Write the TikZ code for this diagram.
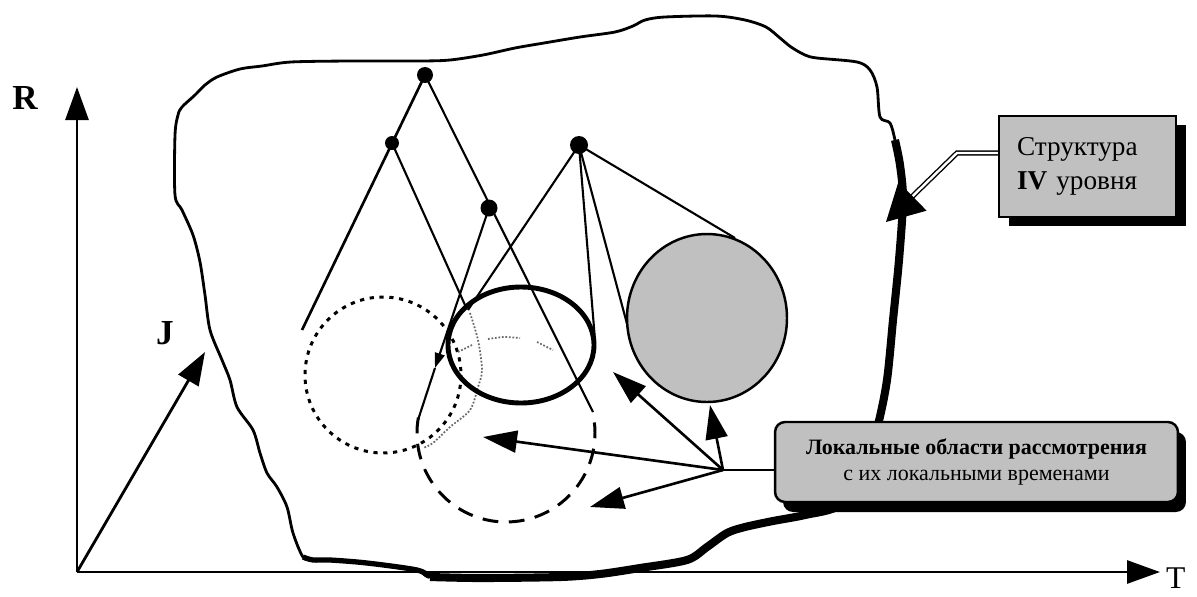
\documentclass[tikz,border=0pt]{standalone}
\usepackage{fontspec}
\setmainfont{Liberation Serif}
\usetikzlibrary{arrows.meta,positioning,shadows}
\definecolor{PanelGray}{RGB}{192,192,192}
\definecolor{HiddenGray}{RGB}{105,105,105}
\newcommand{\vertexdot}[3]{%
  \node[vdot,minimum size=#3] (#1) at (#2) {};}

\begin{document}
\begin{tikzpicture}[x=0.02cm,y=-0.02cm,
  axis/.style={line width=1.6pt,-{Triangle[length=0.66cm,width=0.46cm]}},
  ptr/.style={line width=1.5pt,-{Triangle[length=0.68cm,width=0.44cm]}},
  dblptr/.style={double,double distance=1.4pt,line width=0.8pt,-{Triangle[length=0.74cm,width=0.8cm]}},
  cone/.style={line width=1.2pt},
  hidden/.style={HiddenGray,line width=1pt,densely dotted},
  vdot/.style={circle,fill=black,inner sep=0pt},
  panel/.style={draw,line width=1.4pt,fill=PanelGray,inner sep=0pt},
  axlabel/.style={font=\bfseries\fontsize{20}{22}\selectfont}]
  \useasboundingbox (0,0) rectangle (1197,596);

  % axes R, J, T
  \coordinate (o) at (77,572);
  \coordinate (rtip) at (77,87);
  \coordinate (jtip) at (205,352);
  \coordinate (ttip) at (1160,572);
  \draw[axis] (o) -- (rtip);
  \draw[axis] (o) -- (jtip);
  \draw[axis] (o) -- (ttip);
  \node[axlabel] (rlab) at (25,98) {R};
  \node[axlabel] (jlab) at (165,333) {J};
  \node[font=\fontsize{18}{20}\selectfont,anchor=west,inner sep=1pt] (tlab) at (1164,578) {T};

  % structure of level IV
  \draw[line width=1.6pt] plot[smooth cycle,tension=0.5] coordinates {
    (217,77) (240,69) (262,66) (291,62) (350,61) (420,61) (450,60) (483,55)
    (515,48) (544,43) (580,37) (615,32) (633,26) (645,20) (665,17) (716,16)
    (745,20) (766,27) (780,38) (791,47) (805,55) (817,58) (857,62) (870,70)
    (877,87) (880,117) (890,123) (895,140) (900,165) (903,200) (899,260)
    (893,320) (887,380) (878,425) (865,470) (840,505) (805,515) (773,521)
    (745,527) (727,533) (707,547) (687,560) (640,568) (600,574) (560,577)
    (480,578) (430,577) (417,570) (367,563) (330,560) (313,560) (303,557)
    (293,533) (287,507) (277,487) (267,473) (260,453) (253,430) (237,407)
    (230,380) (222,360) (210,330) (205,295) (200,262) (193,235) (182,210)
    (175,195) (175,135) (178,115) (182,107) (195,95) (205,85)};
  \draw[line width=4.6pt] plot[smooth,tension=0.5] coordinates {
    (895,140) (900,165) (903,200) (899,260) (893,320) (887,380) (878,425)
    (865,470) (840,505) (805,515) (773,521) (745,527) (727,533) (707,547)
    (687,560) (640,568) (600,574) (560,577) (480,578) (430,577)};
  \draw[line width=3pt] plot[smooth,tension=0.5] coordinates {
    (430,577) (417,570) (367,563) (330,560) (313,560) (303,557)};

  % local regions
  \draw[line width=1.7pt,dash pattern=on 2.4pt off 3.2pt] (383,375) circle [radius=78];
  \draw[line width=1.7pt,dash pattern=on 9pt off 6pt]
    ([shift={(190:89)}]506,433) arc[start angle=190,end angle=-10,radius=89];
  \draw[hidden] plot[smooth] coordinates {(470,313) (478,340) (482,370) (478,387)
    (470,410) (450,427) (433,443) (423,448)};
  \draw[hidden] (458,352) -- (472,345);
  \draw[hidden] plot[smooth] coordinates {(488,339) (504,337) (520,338)};
  \draw[hidden] (537,342) -- (553,350);
  \draw[line width=2.8pt] (521,345) ellipse [x radius=73, y radius=58];

  % vertices and cones
  \vertexdot{p1}{425,75}{0.32cm}
  \vertexdot{p2}{392,143}{0.28cm}
  \vertexdot{p3}{489,208}{0.34cm}
  \vertexdot{p4}{579,145}{0.36cm}
  \coordinate (c2l) at (302,330);
  \coordinate (c2r) at (465,305);
  \coordinate (c3l) at (418,420);
  \coordinate (c3m) at (435,368);
  \coordinate (c3r) at (593,412);
  \coordinate (c4a) at (468,310);
  \coordinate (c4b) at (595,340);
  \coordinate (c4c) at (630,335);
  \coordinate (c4d) at (735,238);
  \draw[line width=1.5pt] (p1.center) -- (c2l);
  \draw[cone] (p1.center) -- (c3r);
  \draw[cone] (p2.center) -- (c2r);
  \draw[cone,-{Triangle[length=0.3cm,width=0.2cm]}] (p3.center) -- (c3m);
  \draw[cone] (c3m) -- (c3l);
  \draw[cone] (p4.center) -- (c4a);
  \draw[cone] (p4.center) -- (c4b);
  \draw[cone] (p4.center) -- (c4c);
  \draw[cone] (p4.center) -- (c4d);
  \draw[line width=1.4pt,fill=PanelGray] (707,318) ellipse [x radius=80, y radius=84];

  % captions
  \node[panel,minimum width=3.54cm,minimum height=2.02cm,text width=2.82cm,align=left,
    general shadow={fill=black,shadow xshift=0.2cm,shadow yshift=-0.18cm},
    font=\fontsize{15.5}{19.3}\selectfont] (lvl) at (1087.5,166.5)
    {Структура\\\textbf{IV} уровня};
  \coordinate (sj) at (957,153);
  \coordinate (st) at (886,222);
  \draw[dblptr] (lvl.west |- sj) -- (sj) -- (st);

  \node[panel,rounded corners=0.2cm,minimum width=8.06cm,minimum height=1.6cm,align=center,
    general shadow={fill=black,shadow xshift=0.16cm,shadow yshift=-0.2cm},
    font=\fontsize{12.5}{13}\selectfont] (loc) at (976.5,462)
    {\textbf{Локальные области рассмотрения}\\[2pt] с их локальными временами};
  \coordinate (hub) at (723,470);
  \coordinate (t1) at (483,437);
  \coordinate (t2) at (590,507);
  \coordinate (t3) at (613,372);
  \coordinate (t4) at (710,405);
  \draw[line width=1.5pt] (hub) -- (hub -| loc.west);
  \draw[ptr] (hub) -- (t1);
  \draw[ptr] (hub) -- (t2);
  \draw[ptr] (hub) -- (t3);
  \draw[ptr] (hub) -- (t4);
\end{tikzpicture}
\end{document}
